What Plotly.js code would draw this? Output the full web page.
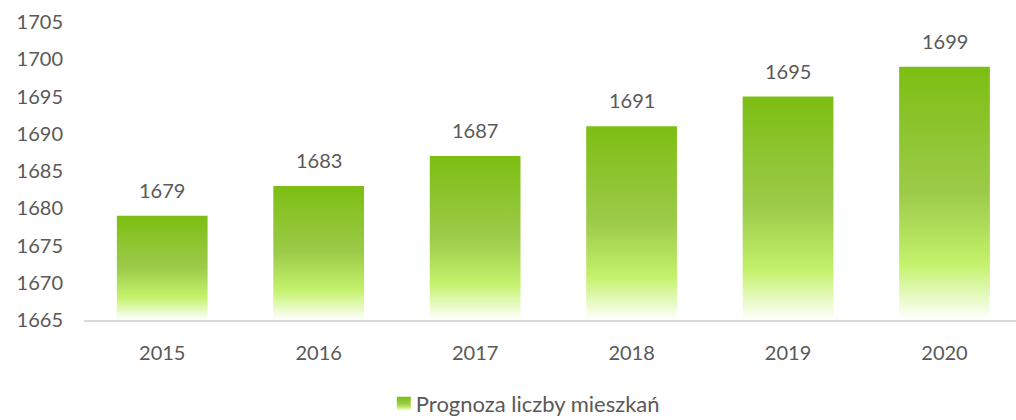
<!DOCTYPE html>
<html>
<head>
<meta charset="utf-8">
<script src="https://cdn.plot.ly/plotly-3.0.1.min.js"></script>
<style>html,body{margin:0;padding:0;background:#fff;}</style>
</head>
<body>
<div id="chart" style="width:1016px;height:420px;"></div>
<script>
const years = ["2015", "2016", "2017", "2018", "2019", "2020"];
const values = [1679, 1683, 1687, 1691, 1695, 1699];
const seriesName = "Prognoza liczby mieszkań";
const yTicks = [1665, 1670, 1675, 1680, 1685, 1690, 1695, 1700, 1705];
const axisMin = 1665;

const fontFam = "Lato, 'Open Sans', sans-serif";
const textColor = "#595959";

const trace = {
  type: "bar",
  x: years,
  y: values.map(v => v - axisMin),
  base: axisMin,
  name: seriesName,
  marker: {color: "#9DCB4A", line: {width: 0}},
  showlegend: true,
  hoverinfo: "none"
};

const annotations = years.map((c, i) => ({
  x: i, y: values[i], xref: "x", yref: "y",
  text: String(values[i]), showarrow: false,
  yanchor: "middle", yshift: 26,
  font: {family: fontFam, size: 20, color: textColor}
}));

const layout = {
  width: 1016, height: 420,
  margin: {l: 84, r: 0, t: 22, b: 100, pad: 0},
  paper_bgcolor: "#fff", plot_bgcolor: "#fff",
  bargap: 0.42,
  font: {family: fontFam, size: 20, color: textColor},
  xaxis: {
    type: "category", range: [-0.5, 5.457],
    showgrid: false, zeroline: false,
    showline: true, linecolor: "#d9d9d9", linewidth: 2,
    ticks: "", ticklabelstandoff: 14,
    tickfont: {family: fontFam, size: 20, color: textColor}
  },
  yaxis: {
    range: [axisMin, 1705], tickvals: yTicks, ticktext: yTicks.map(String),
    showgrid: false, zeroline: false, showline: false,
    ticks: "", ticklabelstandoff: 20,
    tickfont: {family: fontFam, size: 20, color: textColor}
  },
  showlegend: true,
  legend: {
    orientation: "h", xref: "container", yref: "container",
    x: 0.52, xanchor: "center", y: 0.0, yanchor: "bottom",
    font: {family: fontFam, size: 22, color: textColor}
  },
  annotations: annotations
};

Plotly.newPlot("chart", [trace], layout, {staticPlot: true, displayModeBar: false}).then(gd => {
  const svg = gd.querySelector("svg.main-svg");
  const ns = "http://www.w3.org/2000/svg";
  let defs = svg.querySelector("defs");
  if (!defs) { defs = document.createElementNS(ns, "defs"); svg.insertBefore(defs, svg.firstChild); }
  const grad = document.createElementNS(ns, "linearGradient");
  grad.setAttribute("id", "barGrad");
  grad.setAttribute("x1", "0"); grad.setAttribute("y1", "0");
  grad.setAttribute("x2", "0"); grad.setAttribute("y2", "1");
  [["0", "#7CBE12"], ["0.5", "#9DCB4A"], ["0.78", "#C4F26C"], ["1", "#FFFFFF"]].forEach(([o, c]) => {
    const s = document.createElementNS(ns, "stop");
    s.setAttribute("offset", o); s.setAttribute("stop-color", c);
    grad.appendChild(s);
  });
  defs.appendChild(grad);
  gd.querySelectorAll(".barlayer .point path").forEach(p => { p.style.fill = "url(#barGrad)"; });
  gd.querySelectorAll(".legendpoints path").forEach(p => {
    p.style.fill = "url(#barGrad)"; p.style.stroke = "none";
    p.setAttribute("d", "M-7,-7H7V7H-7Z");
  });
  gd.querySelectorAll(".legendtext").forEach(t => { t.setAttribute("x", "32"); });
  const leg = gd.querySelector("g.legend");
  if (leg) {
    const tr = leg.getAttribute("transform") || "";
    leg.setAttribute("transform", tr + " translate(0,5)");
  }
});
</script>
</body>
</html>
